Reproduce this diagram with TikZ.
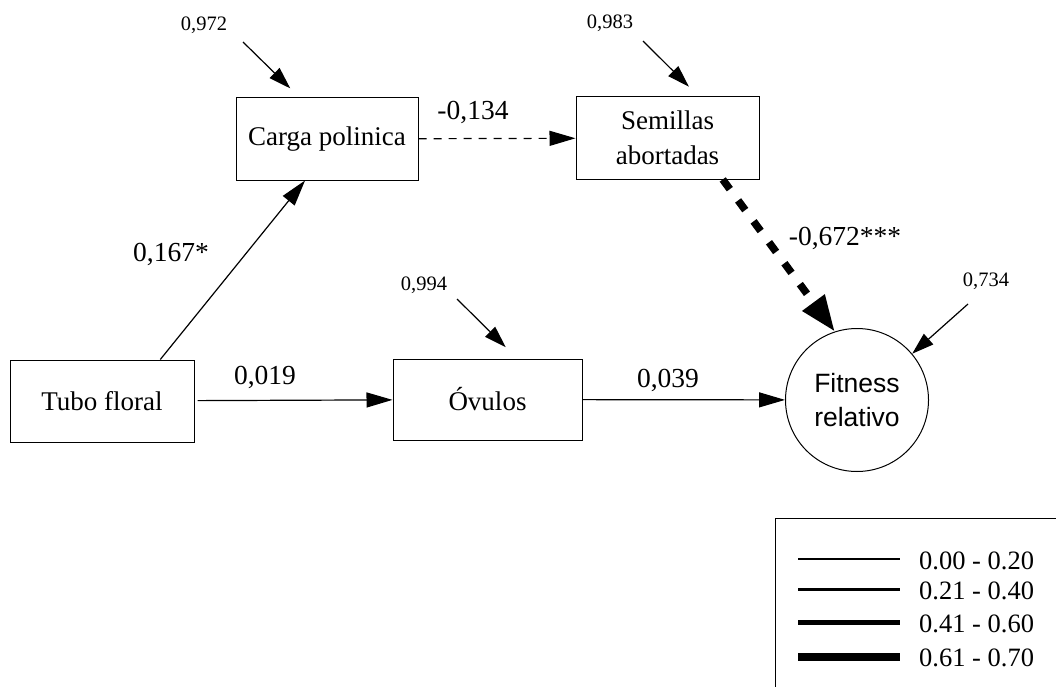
\documentclass[tikz,border=0pt]{standalone}
\usepackage{fontspec}
\setmainfont{Liberation Serif}
\newfontfamily\arialf{Liberation Sans}
\usetikzlibrary{arrows.meta,calc}
\begin{document}
\begin{tikzpicture}[x=1pt,y=-1pt,
  box/.style={draw, line width=1pt, inner sep=0pt, align=center,
    font=\fontsize{27}{35}\selectfont},
  circ/.style={draw, circle, line width=1pt, inner sep=0pt, minimum size=143pt,
    align=center, font=\arialf\fontsize{26.5}{34}\selectfont},
  small/.style={font=\fontsize{20.5}{24}\selectfont, inner sep=0pt},
  coef/.style={font=\fontsize{27.5}{32}\selectfont, inner sep=0pt},
  legtext/.style={font=\fontsize{26.5}{30}\selectfont, inner sep=0pt, anchor=west},
  arr/.style={-{Triangle[length=26pt,width=15pt]}, line width=1.2pt},
  err/.style={-{Triangle[length=22pt,width=14pt]}, line width=1.2pt},
  bigarr/.style={-{Triangle[length=36pt,width=26pt]}, line width=7.5pt,
    dash pattern=on 12pt off 14pt}
]
\useasboundingbox (0,0) rectangle (1056,687);

% boxes
\node[box, minimum width=182pt, minimum height=82pt] (carga) at (327,139) {Carga polinica};
\node[box, minimum width=183pt, minimum height=82pt] (sem) at (667.5,138) {Semillas\\abortadas};
\node[box, minimum width=184pt, minimum height=82pt] (tubo) at (102,401) {Tubo floral};
\node[box, minimum width=189pt, minimum height=81pt] (ov) at (487.5,399.5) {Óvulos};
\node[circ] (fit) at (857,400) {Fitness\\relativo};

% error terms
\node[small] (e1) at (204,25) {0,972};
\node[small] (e2) at (610,23) {0,983};
\node[small] (e3) at (424,285) {0,994};
\node[small] (e4) at (986,281) {0,734};
\coordinate (e1s) at (243,42);
\coordinate (e2s) at (643,41);
\coordinate (e3s) at (457,299);
\coordinate (e4s) at (968,304);
\draw[err, shorten >=13pt] (e1s) -- ($(carga.north west)!0.35!(carga.north east)$);
\draw[err, shorten >=14pt] (e2s) -- ($(sem.north west)!0.67!(sem.north east)$);
\draw[err, shorten >=16pt] (e3s) -- ($(ov.north west)!0.656!(ov.north east)$);
\draw[err] (e4s) -- (fit.40);

% paths
\draw[arr] ($(tubo.north west)!0.815!(tubo.north east)$) -- ($(carga.south west)!0.38!(carga.south east)$);
\draw[arr, shorten <=3pt] (tubo) -- (ov);
\draw[arr] (ov) -- (fit);
\draw[arr, dash pattern=on 8pt off 7pt] (carga) -- (sem);
\draw[bigarr] ($(sem.south west)!0.8!(sem.south east)$) -- (fit.108);

% coefficients
\node[coef] (c1) at (171,254) {0,167*};
\node[coef] (c2) at (265,377) {0,019};
\node[coef] (c3) at (473,112) {-0,134};
\node[coef] (c4) at (668,380) {0,039};
\node[coef] (c5) at (845,238) {-0,672***};

% legend
\draw[line width=1pt] (1062,518) -- (775,518) -- (775,693);
\draw[line width=1.3pt] (798,559) -- (900,559);
\draw[line width=3pt] (798,589) -- (900,589);
\draw[line width=5pt] (798,622) -- (900,622);
\draw[line width=8pt] (798,657) -- (900,657);
\node[legtext] (l1) at (919,561) {0.00 - 0.20};
\node[legtext] (l2) at (919,591) {0.21 - 0.40};
\node[legtext] (l3) at (919,624) {0.41 - 0.60};
\node[legtext] (l4) at (919,658) {0.61 - 0.70};
\end{tikzpicture}
\end{document}
